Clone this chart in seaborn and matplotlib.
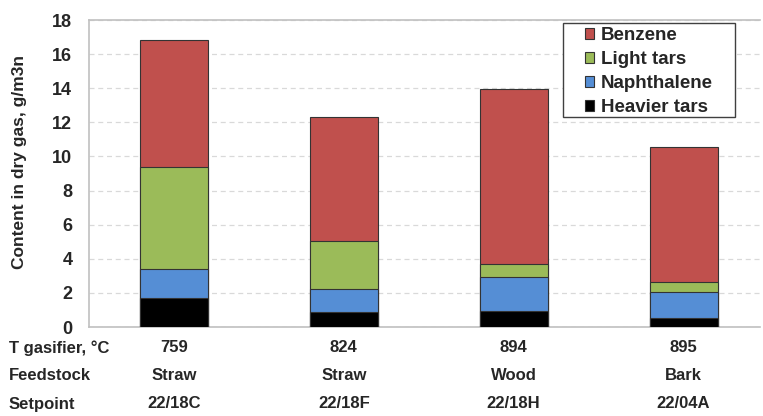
import matplotlib
matplotlib.use("Agg")
import matplotlib.pyplot as plt
import matplotlib.transforms as mtransforms
from matplotlib.patches import Patch, Rectangle
import pandas as pd
import seaborn as sns

# values, g/m3n
setpoints = ['22/18C', '22/18F', '22/18H', '22/04A']
t_gasifier = ['759', '824', '894', '895']
feedstock = ['Straw', 'Straw', 'Wood', 'Bark']
heavier_tars = [1.68, 0.86, 0.95, 0.54]
naphthalene = [1.70, 1.35, 1.98, 1.50]
light_tars = [6.00, 2.84, 0.76, 0.58]
benzene = [7.44, 7.26, 10.24, 7.91]

components = ['Heavier tars', 'Naphthalene', 'Light tars', 'Benzene']
colors = {'Benzene': '#C0504D', 'Light tars': '#9BBB59',
          'Naphthalene': '#558ED5', 'Heavier tars': '#000000'}

df = pd.DataFrame({'setpoint': setpoints, 'Heavier tars': heavier_tars,
                   'Naphthalene': naphthalene, 'Light tars': light_tars,
                   'Benzene': benzene})
#cumulative heights so we can overlay bars top-down
cum = df[components].cumsum(axis=1)
cum['setpoint'] = df['setpoint']

sns.set_style("white")
plt.rcParams['font.family'] = ['Liberation Sans', 'DejaVu Sans']
plt.rcParams['font.weight'] = 'bold'

W, H = 763, 416
fig = plt.figure(figsize=(W / 100, H / 100), dpi=100)
ax = fig.add_axes([89 / W, 1 - 327 / H, 671 / W, 307 / H])

for comp in reversed(components):
    sns.barplot(data=cum, x='setpoint', y=comp, color=colors[comp], width=0.4,
                edgecolor='#333333', linewidth=0.8, saturation=1, ax=ax, zorder=3)

ax.set_ylim(0, 18)
ax.set_xlim(-0.5, 3.45)
ax.set_yticks(range(0, 19, 2))
ax.yaxis.grid(True, linestyle=(0, (4, 3)), color='#d9d9d9', linewidth=0.9, zorder=0)
ax.set_axisbelow(True)
ax.tick_params(axis='y', labelsize=13, length=0, pad=12)
ax.set_xticks([])
ax.set_xlabel('')
ax.set_ylabel('Content in dry gas, g/m3n', fontsize=12.5, fontweight='bold')
ax.yaxis.set_label_coords(-0.092, 0.537)
for s in ['left', 'bottom', 'top']:
    ax.spines[s].set_color('#c0c0c0')
    ax.spines[s].set_linewidth(1.2)
ax.spines['right'].set_visible(False)

# table-like rows under the axis
trans = mtransforms.blended_transform_factory(ax.transData, fig.transFigure)
rows = [('T gasifier, °C', t_gasifier, 1 - 348 / H),
        ('Feedstock', feedstock, 1 - 376 / H),
        ('Setpoint', setpoints, 1 - 404 / H)]
for label, vals, yy in rows:
    fig.text(9 / W, yy, label, fontsize=12, fontweight='bold', va='center', ha='left')
    for i, v in enumerate(vals):
        ax.text(i, yy, v, transform=trans, fontsize=12, fontweight='bold',
                va='center', ha='center')

# legend box drawn separately so it gets the wide side padding of the original
fig.patches.append(Rectangle((563 / W, 1 - 117 / H), 172 / W, 94 / H,
                             transform=fig.transFigure, facecolor='white',
                             edgecolor='#404040', linewidth=1.0, zorder=4))
handles = [Patch(facecolor=colors[c], edgecolor='#333333', linewidth=0.8, label=c)
           for c in reversed(components)]
leg = fig.legend(handles=handles, loc='upper left', bbox_to_anchor=(585 / W, 1 - 27 / H),
                 fontsize=13.5, frameon=False, handlelength=0.5, handleheight=0.5,
                 handletextpad=0.35, labelspacing=0.37, borderpad=0, borderaxespad=0)
leg.set_zorder(5)
for t in leg.get_texts():
    t.set_fontweight('bold')

fig.savefig('out.png', dpi=100)
